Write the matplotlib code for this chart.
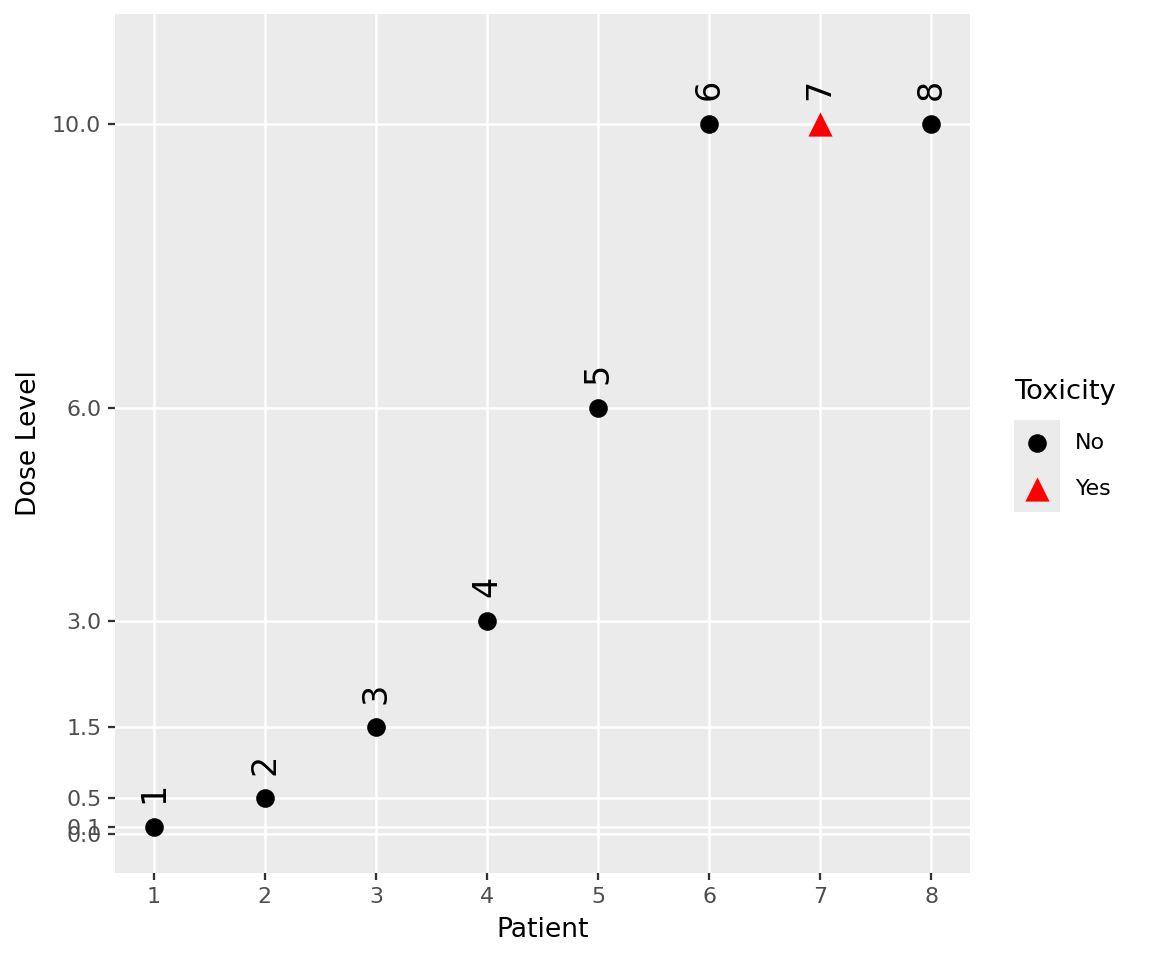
import numpy as np
import matplotlib.pyplot as plt

# data
patient = [1, 2, 3, 4, 5, 6, 7, 8]
dose = [0.1, 0.5, 1.5, 3.0, 6.0, 10.0, 10.0, 10.0]
toxicity = ["No", "No", "No", "No", "No", "No", "Yes", "No"]
y_breaks = [0.0, 0.1, 0.5, 1.5, 3.0, 6.0, 10.0]

styles = {"No": dict(marker="o", color="black", s=80),
          "Yes": dict(marker="^", color="red", s=135)}

fig = plt.figure(figsize=(7.68, 6.4), dpi=150)
W, H = 1152, 960
ax = fig.add_axes([115 / W, 1 - 873 / H, (970 - 115) / W, (873 - 14) / H])
ax.set_facecolor("#EBEBEB")
for s in ax.spines.values():
    s.set_visible(False)

ax.set_xlim(0.65, 8.35)
ax.set_ylim(-0.55, 11.55)
ax.set_xticks(patient)
ax.set_yticks(y_breaks)
ax.set_yticklabels([f"{v:.1f}" for v in y_breaks])
ax.grid(True, color="white", linewidth=1.2)
ax.set_axisbelow(True)
ax.tick_params(colors="#333333", labelcolor="#4D4D4D", labelsize=10.6,
               length=3.4, width=1.1, pad=3.2)

p = np.array(patient)
d = np.array(dose)
t = np.array(toxicity)
for lvl in ["No", "Yes"]:
    m = t == lvl
    ax.scatter(p[m], d[m], linewidths=0, zorder=3, **styles[lvl])

for x, y in zip(patient, dose):
    ax.annotate(str(x), (x, y), xytext=(0, 11.5), textcoords="offset points",
                rotation=90, ha="center", va="bottom", fontsize=16, color="black")

ax.set_xlabel("Patient", fontsize=12.8, labelpad=5)
ax.set_ylabel("Dose Level", fontsize=12.8, labelpad=5)

# legend
fig.text(1014 / W, 1 - 392 / H, "Toxicity", fontsize=13.2, ha="left", va="center")
lax = fig.add_axes([1014 / W, 1 - 512 / H, 46 / W, 92 / H])
lax.set_facecolor("#EBEBEB")
lax.set_xlim(0, 1)
lax.set_ylim(0, 2)
lax.set_xticks([])
lax.set_yticks([])
for s in lax.spines.values():
    s.set_visible(False)
for i, lvl in enumerate(["No", "Yes"]):
    yy = 1.5 - i
    lax.scatter([0.5], [yy], linewidths=0, **styles[lvl])
    fig.text(1075 / W, 1 - (443 + 46 * i) / H, lvl, fontsize=10.6,
             ha="left", va="center")

fig.savefig("out.png", dpi=150)
